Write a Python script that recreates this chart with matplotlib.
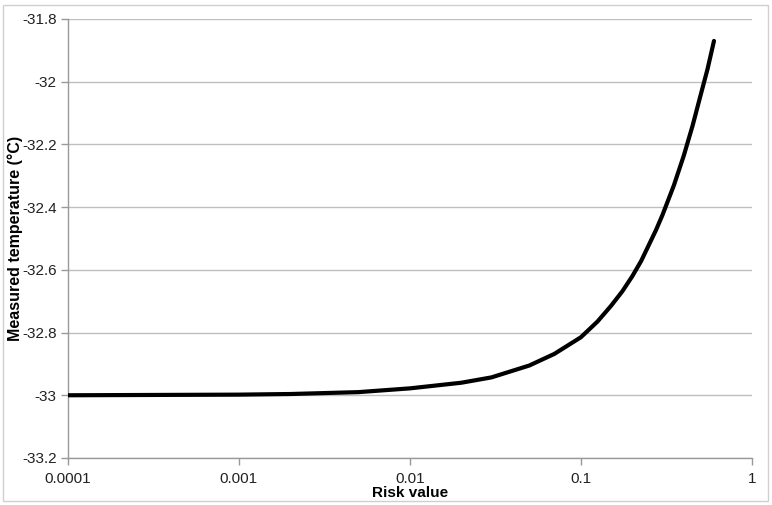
import matplotlib
matplotlib.use("Agg")
import matplotlib.pyplot as plt
from matplotlib.patches import Rectangle
from matplotlib.ticker import FixedLocator, NullLocator

# values
risk = [0.0001, 0.001, 0.002, 0.005, 0.01, 0.02, 0.03, 0.05, 0.07, 0.1,
        0.125, 0.15, 0.175, 0.2, 0.225, 0.25, 0.275, 0.3, 0.35, 0.4,
        0.45, 0.5, 0.55, 0.6]
temp = [-33.0, -32.998, -32.996, -32.99, -32.978, -32.96, -32.943, -32.905,
        -32.868, -32.815, -32.765, -32.715, -32.668, -32.62, -32.572, -32.52,
        -32.473, -32.425, -32.33, -32.235, -32.14, -32.045, -31.96, -31.87]

x_ticks = [0.0001, 0.001, 0.01, 0.1, 1]
x_labels = ["0.0001", "0.001", "0.01", "0.1", "1"]
y_ticks = [-33.2, -33.0, -32.8, -32.6, -32.4, -32.2, -32.0, -31.8]
y_labels = ["-33.2", "-33", "-32.8", "-32.6", "-32.4", "-32.2", "-32", "-31.8"]

fonts = ["Liberation Sans Narrow", "Liberation Sans", "DejaVu Sans"]
plt.rcParams["font.family"] = fonts

fig = plt.figure(figsize=(7.72, 5.05), dpi=100)
ax = fig.add_axes([0.0877, 0.0931, 0.974 - 0.0877, 0.9624 - 0.0931])

ax.plot(risk, temp, color="black", lw=3, solid_capstyle="round",
        solid_joinstyle="round", zorder=3)

ax.set_xscale("log")
ax.set_xlim(0.0001, 1)
ax.set_ylim(-33.2, -31.8)
ax.xaxis.set_major_locator(FixedLocator(x_ticks))
ax.xaxis.set_minor_locator(NullLocator())
ax.set_xticklabels(x_labels)
ax.set_yticks(y_ticks)
ax.set_yticklabels(y_labels)

ax.grid(axis="y", color="#bfbfbf", lw=1)
ax.set_axisbelow(True)
for s in ["top", "right"]:
    ax.spines[s].set_visible(False)
for s in ["left", "bottom"]:
    ax.spines[s].set_color("#999999")
    ax.spines[s].set_linewidth(1)

ax.tick_params(axis="both", colors="#999999", labelcolor="#222222", labelsize=11,
               length=5, width=1)
ax.tick_params(axis="y", pad=3)
ax.tick_params(axis="x", pad=5)

fig.text(0.02, (0.9624 + 0.0931) / 2, "Measured temperature (°C)", rotation=90,
         ha="center", va="center", fontsize=11.5, fontweight="bold")
fig.text((0.0877 + 0.974) / 2, 0.024, "Risk value", ha="center", va="center",
         fontsize=11, fontweight="bold")

fig.patches.append(Rectangle((3 / 772, 4 / 505), 765 / 772, 496 / 505,
                             transform=fig.transFigure, fill=False,
                             edgecolor="#d0d0d0", lw=1))

fig.savefig("out.png", dpi=100)
